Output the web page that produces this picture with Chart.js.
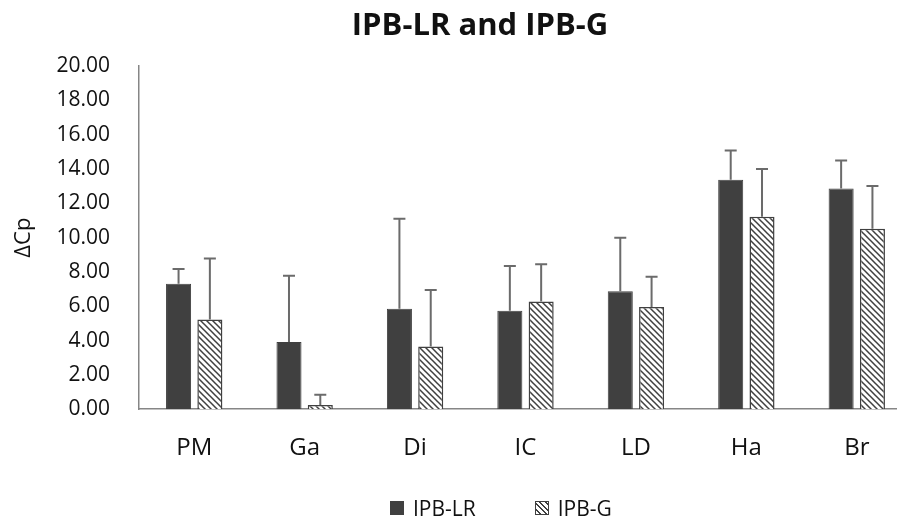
<!DOCTYPE html>
<html>
<head>
<meta charset="utf-8">
<title>IPB-LR and IPB-G</title>
<script src="https://cdn.jsdelivr.net/npm/chart.js@4/dist/chart.umd.min.js"></script>
<style>
  html, body { margin: 0; padding: 0; background: #fff; overflow: hidden; }
  #wrap { position: relative; width: 960px; height: 521px; }
  #title { position: absolute; left: 0; top: 4px; width: 960px; text-align: center;
           font: bold 31px "Open Sans", sans-serif; color: #111; line-height: 38px; }
  #legend { position: absolute; left: 390px; top: 495px; display: flex; gap: 59px;
            font: 21px "Open Sans", sans-serif; color: #111; line-height: 26px; }
  #legend span.item { display: flex; align-items: center; }
  #legend .box { width: 14px; height: 14px; margin-right: 9px; box-sizing: border-box; }
  #legend .solid { background: #404040; }
  #legend .hatch { border: 1px solid #404040;
    background: repeating-linear-gradient(45deg, #fff 0 2.5px, #404040 2.5px 4px); }
</style>
</head>
<body>
<div id="wrap">
  <canvas id="chart"></canvas>
  <div id="title">IPB-LR and IPB-G</div>
  <div id="legend">
    <span class="item"><span class="box solid"></span>IPB-LR</span>
    <span class="item"><span class="box hatch"></span>IPB-G</span>
  </div>
</div>
<script>
const categories = ["PM", "Ga", "Di", "IC", "LD", "Ha", "Br"];
const lrMeans = [7.31, 3.91, 5.85, 5.73, 6.88, 13.37, 12.86];
const lrErrors = [0.86, 3.87, 5.25, 2.62, 3.11, 1.70, 1.63];
const gMeans = [5.22, 0.25, 3.65, 6.28, 5.96, 11.22, 10.52];
const gErrors = [3.56, 0.59, 3.29, 2.17, 1.76, 2.78, 2.48];
const yTicks = [0, 2, 4, 6, 8, 10, 12, 14, 16, 18, 20];

const DARK = "#404040";
const TEXT = "#111";

// diagonal hatch for the IPB-G bars
function hatchPattern() {
  const tile = document.createElement("canvas");
  tile.width = tile.height = 6;
  const g = tile.getContext("2d");
  g.fillStyle = "#fff";
  g.fillRect(0, 0, 6, 6);
  g.strokeStyle = DARK;
  g.lineWidth = 1.5;
  g.beginPath();
  g.moveTo(-1, -1); g.lineTo(7, 7);
  g.moveTo(-1, 5); g.lineTo(1, 7);
  g.moveTo(5, -1); g.lineTo(7, 1);
  g.stroke();
  return g.createPattern(tile, "repeat");
}

// upper error bars, drawn from each bar top
const errorBars = {
  id: "errorBars",
  afterDatasetsDraw(chart) {
    const { ctx, scales: { y } } = chart;
    chart.data.datasets.forEach((ds, i) => {
      chart.getDatasetMeta(i).data.forEach((bar, j) => {
        const top = y.getPixelForValue(ds.data[j] + ds.errors[j]);
        const base = y.getPixelForValue(ds.data[j]);
        ctx.save();
        ctx.strokeStyle = "#6b6b6b";
        ctx.lineWidth = 2;
        ctx.beginPath();
        ctx.moveTo(bar.x, base);
        ctx.lineTo(bar.x, top);
        ctx.moveTo(bar.x - 6, top);
        ctx.lineTo(bar.x + 6, top);
        ctx.stroke();
        ctx.restore();
      });
    });
  },
};

Chart.defaults.font.family = "'Open Sans', sans-serif";
Chart.defaults.color = TEXT;

new Chart(document.getElementById("chart"), {
  type: "bar",
  data: {
    labels: categories,
    datasets: [
      { label: "IPB-LR", data: lrMeans, errors: lrErrors,
        backgroundColor: DARK, borderColor: DARK, borderWidth: 1 },
      { label: "IPB-G", data: gMeans, errors: gErrors,
        backgroundColor: hatchPattern(), borderColor: DARK, borderWidth: 1.5 },
    ],
  },
  options: {
    responsive: true, maintainAspectRatio: false, animation: false,
    categoryPercentage: 0.567, barPercentage: 0.8,
    layout: { padding: { left: 0, right: 48, top: 66, bottom: 33 } },
    plugins: {
      legend: { display: false },
      tooltip: { enabled: false },
      title: { display: false },
    },
    scales: {
      x: {
        grid: { display: false, drawTicks: false },
        border: { color: "#868686", width: 1.5 },
        ticks: { font: { size: 24 }, padding: 25 },
      },
      y: {
        min: 0, max: 20,
        afterBuildTicks: (s) => { s.ticks = yTicks.map((v) => ({ value: v })); },
        afterFit: (s) => { s.width = 139; },
        grid: { display: false, drawTicks: false },
        border: { color: "#868686", width: 1.5 },
        ticks: { font: { size: 21 }, padding: 29, callback: (v) => v.toFixed(2) },
        title: { display: true, text: "ΔCp", font: { size: 22 }, padding: { top: 11 } },
      },
    },
  },
  plugins: [errorBars],
});
</script>
</body>
</html>
